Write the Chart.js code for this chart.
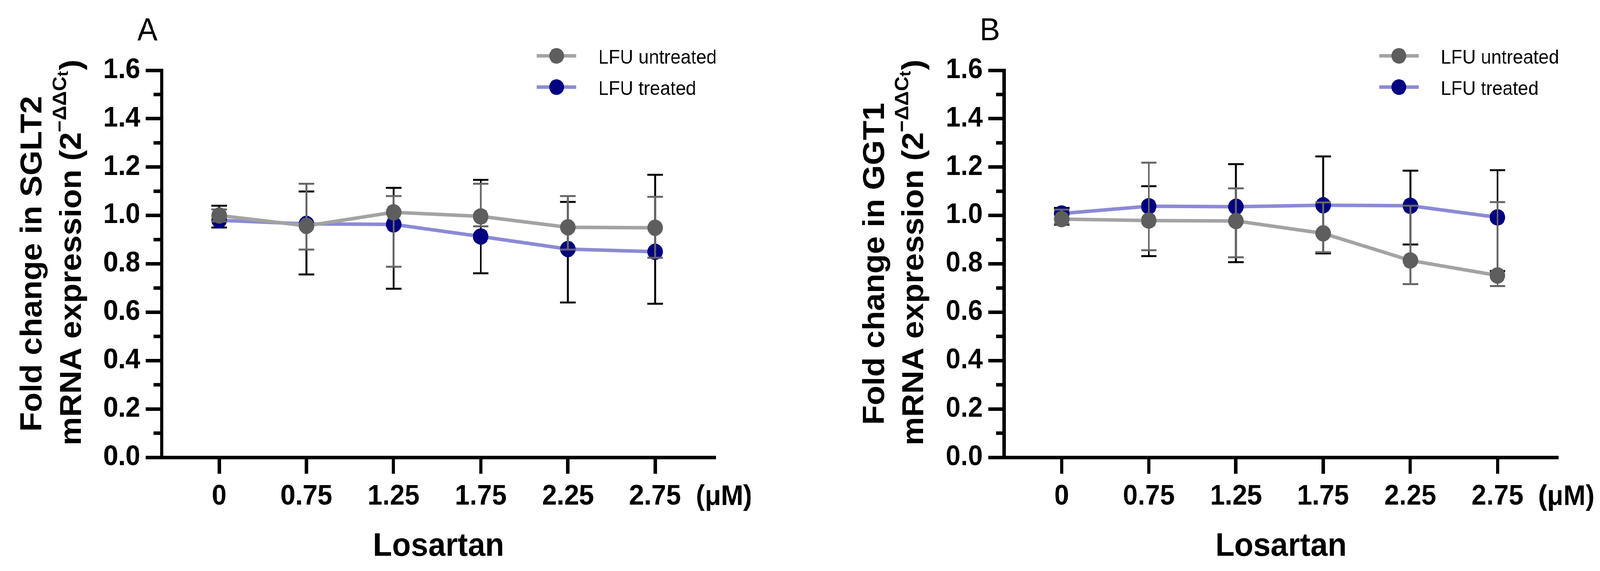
<!DOCTYPE html>
<html>
<head>
<meta charset="utf-8">
<script src="https://cdn.jsdelivr.net/npm/chart.js@4.4.1/dist/chart.umd.min.js"></script>
<style>
    html, body { margin: 0; padding: 0; background: #fff; overflow: hidden; }
    #stage { width: 4321px; height: 1462px; position: relative; transform-origin: 0 0; }
    canvas { position: absolute; top: 0; }
    #chartA { left: 0; }
    #chartB { left: 2275px; }
</style>
</head>
<body>
<div id="stage">
<canvas id="chartA" width="2046" height="1462"></canvas>
<canvas id="chartB" width="2046" height="1462"></canvas>
</div>
<script>
// values
const doses = ['0', '0.75', '1.25', '1.75', '2.25', '2.75'];
const seriesNames = ['LFU untreated', 'LFU treated'];

const sglt2Untreated     = [1.000, 0.957, 1.013, 0.996, 0.951, 0.949];
const sglt2UntreatedLow  = [0.975, 0.859, 0.788, 0.955, 0.859, 0.825];
const sglt2UntreatedHigh = [1.025, 1.131, 1.080, 1.131, 1.080, 1.077];
const sglt2Treated       = [0.980, 0.965, 0.963, 0.913, 0.861, 0.850];
const sglt2TreatedLow    = [0.950, 0.756, 0.697, 0.761, 0.640, 0.635];
const sglt2TreatedHigh   = [1.040, 1.099, 1.114, 1.147, 1.056, 1.168];

const ggt1Untreated     = [0.985, 0.979, 0.977, 0.926, 0.814, 0.752];
const ggt1UntreatedLow  = [0.965, 0.856, 0.827, 0.848, 0.716, 0.708];
const ggt1UntreatedHigh = [1.024, 1.218, 1.112, 1.054, 1.040, 1.055];
const ggt1Treated       = [1.008, 1.038, 1.036, 1.042, 1.040, 0.992];
const ggt1TreatedLow    = [0.962, 0.832, 0.807, 0.843, 0.880, 0.770];
const ggt1TreatedHigh   = [1.031, 1.121, 1.212, 1.244, 1.185, 1.187];

const FAMILY = '"Liberation Sans", Arial, Helvetica, sans-serif';

// the window may be narrower than the 4321px figure: squeeze the stage to fit
var fit = Math.min(1, window.innerWidth / 4321);
document.getElementById('stage').style.transform = 'scale(' + fit + ', 1)';

function toPoints(vals) {
    return vals.map(function (v, i) { return { x: i, y: v }; });
}

var errorBars = {
    id: 'errorBars',
    beforeDatasetDraw: function (chart, args) {
        var ds = chart.data.datasets[args.index];
        var xs = chart.scales.x, ys = chart.scales.y, c = chart.ctx;
        c.save();
        c.strokeStyle = ds.errColor;
        c.lineWidth = 5;
        ds.data.forEach(function (p, i) {
            var px = xs.getPixelForValue(p.x);
            var top = ys.getPixelForValue(ds.errHigh[i]);
            var bot = ys.getPixelForValue(ds.errLow[i]);
            c.beginPath();
            c.moveTo(px, top); c.lineTo(px, bot);
            c.moveTo(px - 21, top); c.lineTo(px + 21, top);
            c.moveTo(px - 21, bot); c.lineTo(px + 21, bot);
            c.stroke();
        });
        c.restore();
    }
};

var decor = {
    id: 'decor',
    afterDraw: function (chart, args, opts) {
        var c = chart.ctx, a = chart.chartArea;
        var xs = chart.scales.x, ys = chart.scales.y;
        c.save();
        c.fillStyle = '#000';

        // minor ticks on y
        c.strokeStyle = '#000';
        c.lineWidth = 9;
        for (var v = 0.1; v < 1.6; v += 0.2) {
            var py = ys.getPixelForValue(v);
            c.beginPath(); c.moveTo(a.left - 21, py); c.lineTo(a.left, py); c.stroke();
        }

        // panel letter
        c.font = '82px ' + FAMILY;
        c.textAlign = 'center';
        c.textBaseline = 'alphabetic';
        c.fillText(opts.letter, a.left - 38, a.top - 77);

        // y title, two rotated lines
        var mid = (a.top + a.bottom) / 2;
        c.save();
        c.translate(a.left - 324, mid);
        c.rotate(-Math.PI / 2);
        c.font = 'bold 82px ' + FAMILY;
        c.fillText('Fold change in ' + opts.gene, 0, 0);
        c.restore();

        c.save();
        c.translate(a.left - 218, mid - 28);
        c.rotate(-Math.PI / 2);
        c.textAlign = 'left';
        var main = 'mRNA expression (2', sup = '\u2212\u0394\u0394C';
        c.font = 'bold 82px ' + FAMILY;
        var wMain = c.measureText(main).width;
        c.font = 'bold 52px ' + FAMILY;
        var wSup = c.measureText(sup).width;
        c.font = 'bold 42px ' + FAMILY;
        var wT = c.measureText('t').width;
        c.font = 'bold 82px ' + FAMILY;
        var wClose = c.measureText(')').width;
        var x0 = -(wMain + wSup + wT + wClose) / 2;
        c.fillText(main, x0, 0);
        c.fillText(')', x0 + wMain + wSup + wT + 2, 0);
        c.font = 'bold 52px ' + FAMILY;
        c.fillText(sup, x0 + wMain, -40);
        c.font = 'bold 42px ' + FAMILY;
        c.fillText('t', x0 + wMain + wSup, -34);
        c.restore();

        // unit and x title
        c.font = 'bold 72px ' + FAMILY;
        c.textAlign = 'left';
        c.fillText('(\u03bcM)', xs.getPixelForValue(doses.length - 1) + 110, a.bottom + 122);
        c.font = 'bold 84px ' + FAMILY;
        c.textAlign = 'center';
        c.fillText('Losartan', (a.left + a.right) / 2, a.bottom + 252);

        // legend
        var mx = a.right - 430;
        chart.data.datasets.forEach(function (ds, i) {
            var ry = a.top - 37 + i * 80;
            c.strokeStyle = ds.borderColor;
            c.lineWidth = 9;
            c.beginPath(); c.moveTo(mx - 53, ry); c.lineTo(mx + 53, ry); c.stroke();
            c.fillStyle = ds.pointBackgroundColor;
            c.beginPath(); c.arc(mx, ry, 20, 0, Math.PI * 2); c.fill();
            c.fillStyle = '#000';
            c.font = '50px ' + FAMILY;
            c.textAlign = 'left';
            c.fillText(ds.label, mx + 113, ry + 20);
        });
        c.restore();
    }
};

function makeChart(id, letter, gene, unt, untLo, untHi, trt, trtLo, trtHi) {
    var ctx = document.getElementById(id).getContext('2d');
    var tickFont = { family: FAMILY, size: 72, weight: 'bold' };
    return new Chart(ctx, {
        type: 'line',
        data: {
            datasets: [
                {
                    label: seriesNames[0],
                    data: toPoints(unt),
                    errLow: untLo, errHigh: untHi, errColor: '#666666',
                    borderColor: '#a3a3a3', borderWidth: 9,
                    pointBackgroundColor: '#5e5e5e', pointBorderWidth: 0,
                    pointRadius: 21, pointHoverRadius: 21
                },
                {
                    label: seriesNames[1],
                    data: toPoints(trt),
                    errLow: trtLo, errHigh: trtHi, errColor: '#000000',
                    borderColor: '#8a8ad6', borderWidth: 9,
                    pointBackgroundColor: '#000080', pointBorderWidth: 0,
                    pointRadius: 21, pointHoverRadius: 21
                }
            ]
        },
        options: {
            responsive: false,
            devicePixelRatio: 1,
            animation: false,
            layout: { padding: { top: 180, right: 113, left: 0, bottom: 0 } },
            scales: {
                x: {
                    type: 'linear',
                    min: -0.663,
                    max: 5.696,
                    afterBuildTicks: function (s) {
                        s.ticks = doses.map(function (d, i) { return { value: i }; });
                    },
                    afterFit: function (s) { s.height = 291; },
                    grid: { drawOnChartArea: false, tickLength: 42, tickWidth: 9, tickColor: '#000' },
                    border: { width: 9, color: '#000' },
                    ticks: {
                        callback: function (v) { return doses[v]; },
                        font: tickFont, color: '#000', padding: 16,
                        autoSkip: false, maxRotation: 0
                    }
                },
                y: {
                    min: 0,
                    max: 1.6,
                    afterFit: function (s) { s.width = 436; },
                    grid: { drawOnChartArea: false, tickLength: 42, tickWidth: 9, tickColor: '#000' },
                    border: { width: 9, color: '#000' },
                    ticks: {
                        stepSize: 0.2,
                        callback: function (v) { return v.toFixed(1); },
                        font: tickFont, color: '#000', padding: 15
                    }
                }
            },
            plugins: {
                legend: { display: false },
                tooltip: { enabled: false },
                decor: { letter: letter, gene: gene }
            }
        },
        plugins: [errorBars, decor]
    });
}

makeChart('chartA', 'A', 'SGLT2', sglt2Untreated, sglt2UntreatedLow, sglt2UntreatedHigh,
    sglt2Treated, sglt2TreatedLow, sglt2TreatedHigh);
makeChart('chartB', 'B', 'GGT1', ggt1Untreated, ggt1UntreatedLow, ggt1UntreatedHigh,
    ggt1Treated, ggt1TreatedLow, ggt1TreatedHigh);
</script>
</body>
</html>
